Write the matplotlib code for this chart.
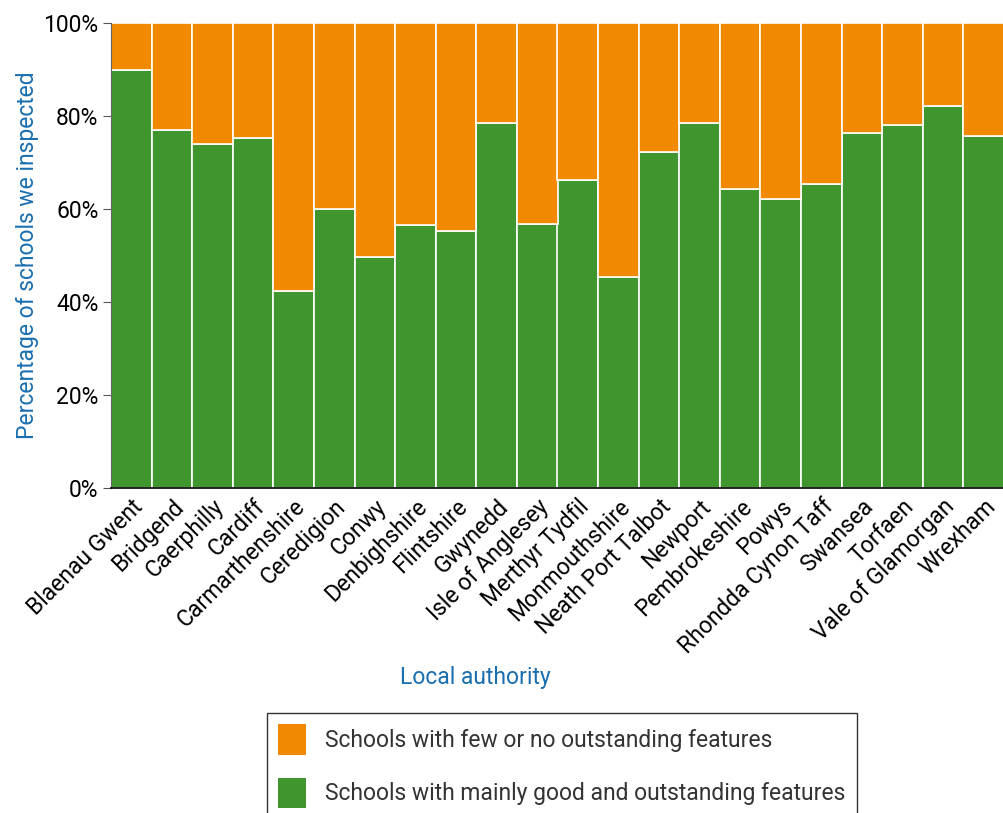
import numpy as np
import matplotlib.pyplot as plt
from matplotlib.patches import Patch

plt.rcParams['font.family'] = ['Roboto', 'DejaVu Sans']

authorities = ['Blaenau Gwent', 'Bridgend', 'Caerphilly', 'Cardiff', 'Carmarthenshire',
               'Ceredigion', 'Conwy', 'Denbighshire', 'Flintshire', 'Gwynedd',
               'Isle of Anglesey', 'Merthyr Tydfil', 'Monmouthshire', 'Neath Port Talbot',
               'Newport', 'Pembrokeshire', 'Powys', 'Rhondda Cynon Taff', 'Swansea',
               'Torfaen', 'Vale of Glamorgan', 'Wrexham']
good = [89.9, 76.9, 73.9, 75.2, 42.3, 60.0, 49.7, 56.6, 55.2, 78.4, 56.8,
        66.3, 45.3, 72.2, 78.4, 64.4, 62.1, 65.3, 76.3, 78.1, 82.1, 75.8]
few = [100 - g for g in good]

orange = '#f18a00'
green = '#3f962e'
blue = '#1a6fb0'

fig = plt.figure(figsize=(10.04, 8.13), dpi=100)
ax = fig.add_axes([111 / 1004, 1 - 488 / 813, 1 - 111 / 1004, 465 / 813])

x = np.arange(len(authorities))
ax.bar(x, good, width=1.0, color=green, edgecolor='white', linewidth=1.2)
ax.bar(x, few, bottom=good, width=1.0, color=orange, edgecolor='white', linewidth=1.2)

ax.set_xlim(-0.5, len(authorities) - 0.5)
ax.set_ylim(0, 100)
ax.set_yticks([0, 20, 40, 60, 80, 100])
ax.set_yticklabels([f'{v}%' for v in [0, 20, 40, 60, 80, 100]], fontsize=16.5)
ax.set_xticks(x)
ax.set_xticklabels(authorities, rotation=45, ha='right', rotation_mode='anchor', fontsize=16.5)
ax.tick_params(axis='x', length=0, pad=5)
ax.tick_params(axis='y', length=6, color='#555555', pad=3)

for side in ['top', 'right']:
    ax.spines[side].set_visible(False)
ax.spines['left'].set_color('#666666')
ax.spines['bottom'].set_color('black')
ax.spines['bottom'].set_linewidth(1.2)

ax.set_ylabel('Percentage of schools we inspected', color=blue, fontsize=16.5, labelpad=3)
fig.text(475 / 1004, 1 - 677 / 813, 'Local authority', color=blue, fontsize=16.5,
         ha='center', va='center')

handles = [Patch(facecolor=orange, edgecolor='none'), Patch(facecolor=green, edgecolor='none')]
leg = fig.legend(handles, ['Schools with few or no outstanding features',
                           'Schools with mainly good and outstanding features'],
                 loc='upper left', bbox_to_anchor=(267 / 1004, 1 - 713 / 813),
                 fontsize=16.5, frameon=True, fancybox=False, edgecolor='black',
                 handlelength=1.22, handleheight=1.65, labelspacing=1.0,
                 handletextpad=0.8, borderpad=0.5, borderaxespad=0)
leg.get_frame().set_linewidth(1.0)
for t in leg.get_texts():
    t.set_color('#333333')

fig.savefig('out.png', dpi=100)
